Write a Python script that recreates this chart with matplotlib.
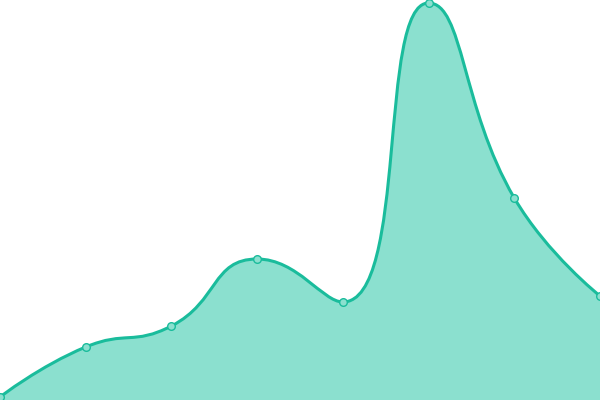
import numpy as np
import matplotlib.pyplot as plt
from matplotlib.path import Path
from matplotlib.patches import PathPatch

# data
x_idx = [0, 1, 2, 3, 4, 5, 6, 7]
values = [3, 53, 74, 141, 98, 397, 202, 104]
y_max = 400

line_color = '#1abc9c'
fill_color = '#8be0cf'

W, H = 600, 400


def smooth_controls(px, py, smooth=0.5):
    # bezier control points, echarts-like smoothing in pixel space
    n = len(px)
    cps = []
    cp0x, cp0y = px[0], py[0]
    for i in range(n - 1):
        x, y = px[i], py[i]
        nx, ny = px[i + 1], py[i + 1]
        if i == 0:
            cp1x, cp1y = x, y
            nxt_cp0 = None
        prevx, prevy = (px[i - 1], py[i - 1]) if i > 0 else (x, y)
        if i > 0:
            vx, vy = nx - prevx, ny - prevy
            l0 = np.hypot(x - prevx, y - prevy)
            l1 = np.hypot(nx - x, ny - y)
            r = l1 / (l0 + l1)
            c1x = x + vx * smooth * r
            c1y = y + vy * smooth * r
            c1x = min(c1x, max(nx, x)); c1y = min(c1y, max(ny, y))
            c1x = max(c1x, min(nx, x)); c1y = max(c1y, min(ny, y))
            vx, vy = c1x - x, c1y - y
            c0x = x - vx * l0 / l1
            c0y = y - vy * l0 / l1
            c0x = min(c0x, max(prevx, x)); c0y = min(c0y, max(prevy, y))
            c0x = max(c0x, min(prevx, x)); c0y = max(c0y, min(prevy, y))
            vx, vy = x - c0x, y - c0y
            c1x = x + vx * l1 / l0
            c1y = y + vy * l1 / l0
            cps.append(((pend_x, pend_y), (c0x, c0y)))
            pend_x, pend_y = c1x, c1y
        else:
            pend_x, pend_y = x, y
    cps.append(((pend_x, pend_y), (px[-1], py[-1])))
    return cps


px = np.array(x_idx, dtype=float) * W / (len(x_idx) - 1)
py = np.array(values, dtype=float) * H / y_max
cps = smooth_controls(px, py)

verts = [(px[0], py[0])]
codes = [Path.MOVETO]
for i, (c1, c2) in enumerate(cps):
    verts += [c1, c2, (px[i + 1], py[i + 1])]
    codes += [Path.CURVE4] * 3

fig = plt.figure(figsize=(6, 4), dpi=100)
ax = fig.add_axes([0, 0, 1, 1])
ax.set_xlim(0, W)
ax.set_ylim(0, H)
ax.axis('off')

area_verts = verts + [(px[-1], 0), (px[0], 0), (px[0], py[0])]
area_codes = codes + [Path.LINETO, Path.LINETO, Path.CLOSEPOLY]
ax.add_patch(PathPatch(Path(area_verts, area_codes), facecolor=fill_color,
                       edgecolor='none'))
ax.add_patch(PathPatch(Path(verts, codes), facecolor='none',
                       edgecolor=line_color, lw=2.2, capstyle='round'))
ax.plot(px, py, 'o', ms=5.5, mfc='#8be0cf', mec=line_color, mew=1,
        clip_on=False)

plt.savefig('out.png', dpi=100)
